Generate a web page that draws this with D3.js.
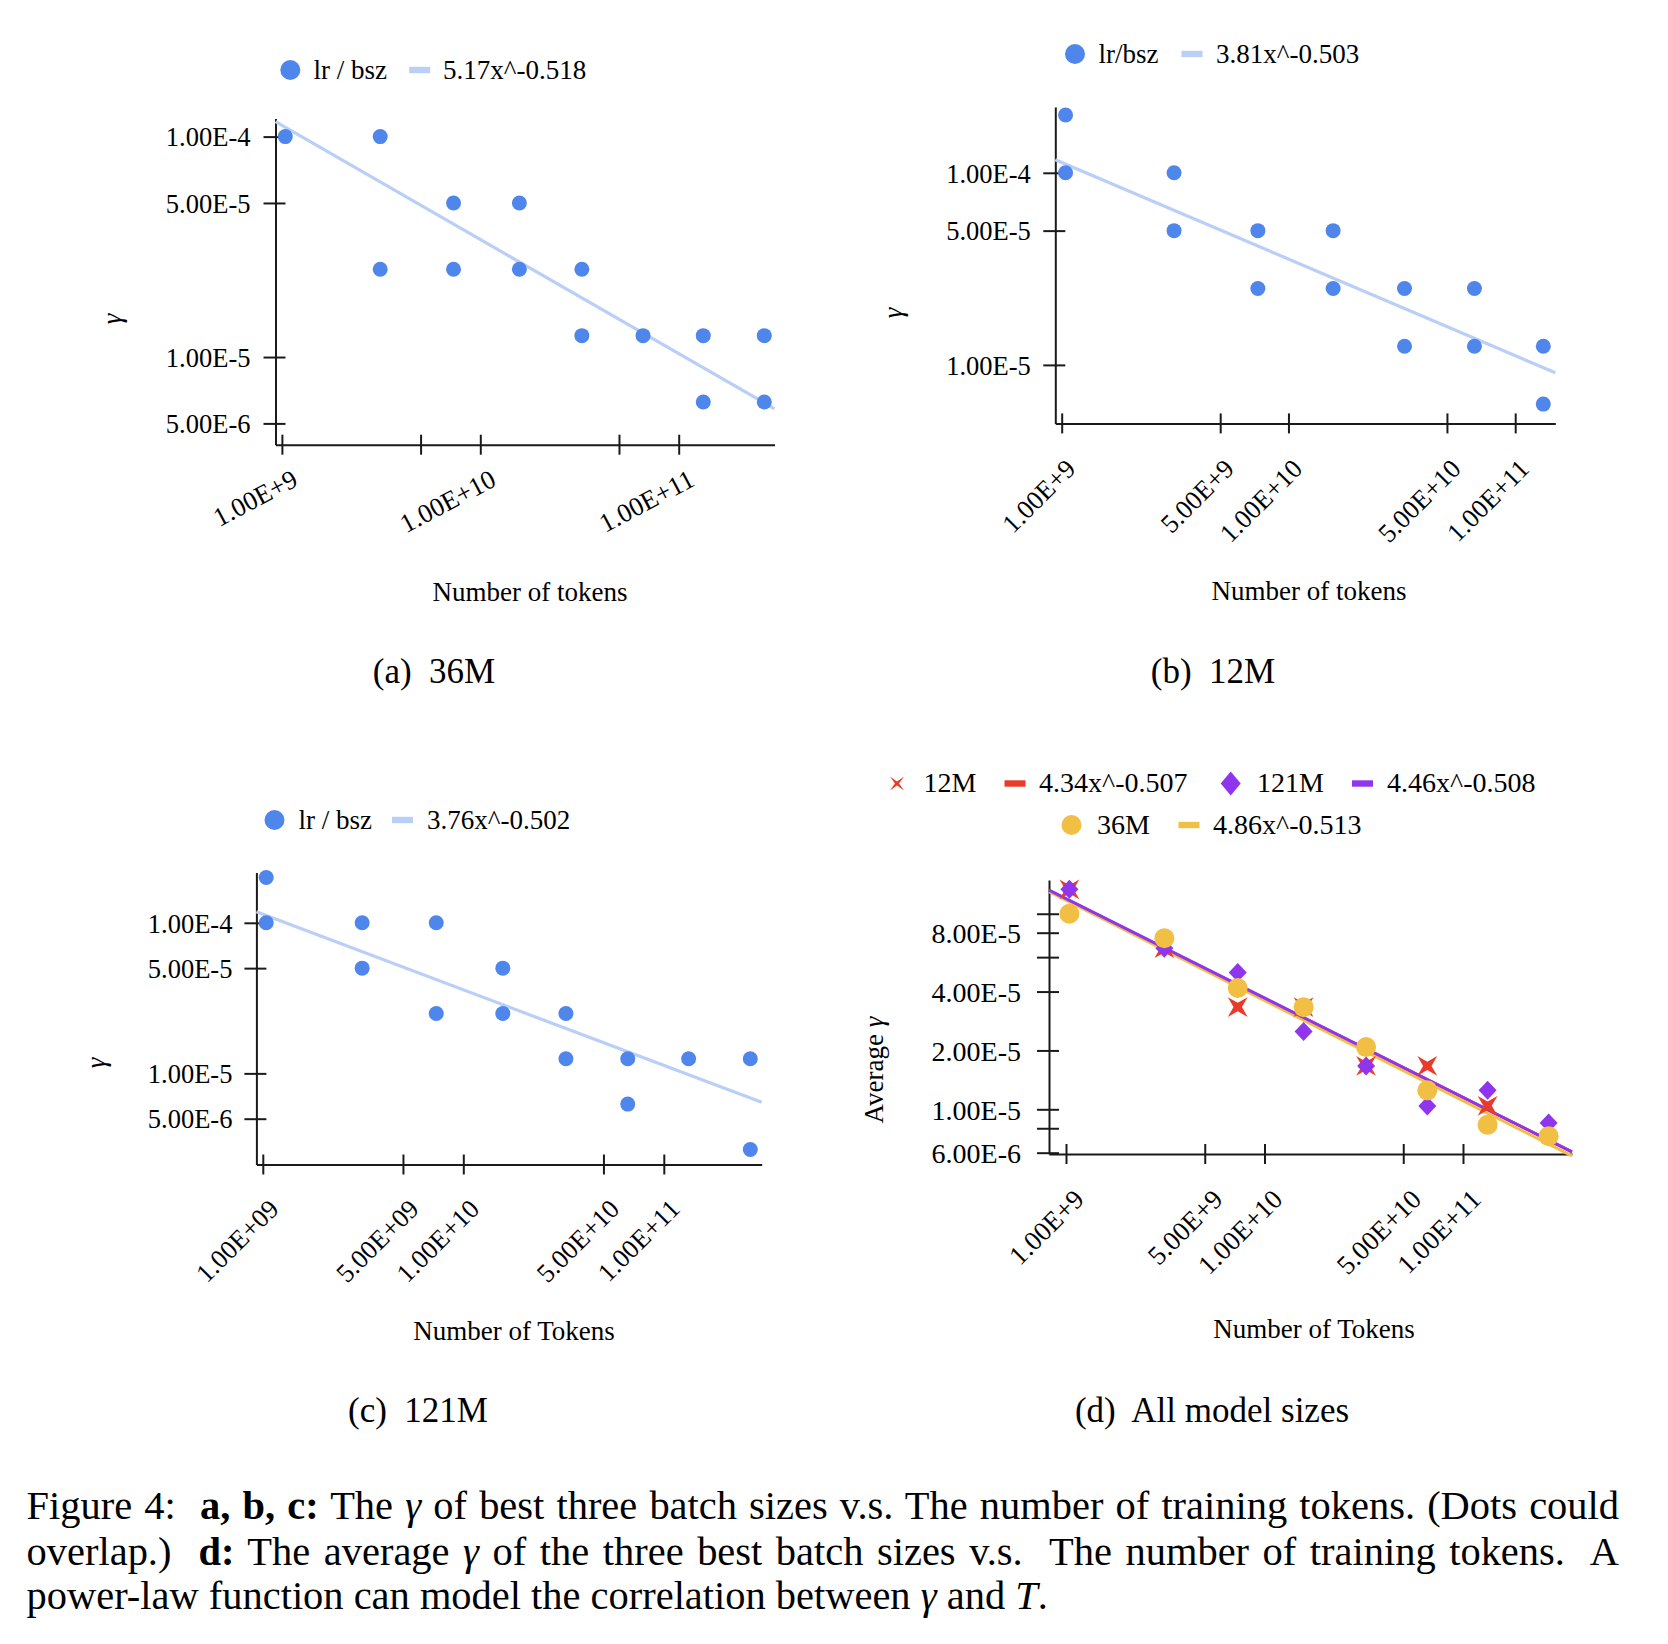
<!DOCTYPE html>
<html><head><meta charset="utf-8">
<script src="https://cdn.jsdelivr.net/npm/d3@7"></script>
<style>
body{margin:0;background:#fff}
svg{display:block}
text{font-family:"Liberation Serif","Times New Roman",Times,serif;fill:#000;white-space:pre}
</style>
</head><body>
<svg id="fig" width="1668" height="1644" xmlns="http://www.w3.org/2000/svg"></svg>
<script>
// ================= DATA =================
// (a) 36M : gamma of best three batch sizes vs number of tokens
const tokens36M = [1.04e9, 3.13e9, 3.13e9, 7.33e9, 7.33e9, 1.574e10, 1.574e10, 3.25e10, 3.25e10, 6.61e10, 1.33e11, 1.33e11, 2.70e11, 2.70e11];
const gamma36M  = [1e-4, 1e-4, 2.5e-5, 5e-5, 2.5e-5, 5e-5, 2.5e-5, 2.5e-5, 1.25e-5, 1.25e-5, 1.25e-5, 6.25e-6, 1.25e-5, 6.25e-6];
const fit36M = [5.17, -0.518];

// (b) 12M
const tokens12M = [1.04e9, 1.04e9, 3.13e9, 3.13e9, 7.33e9, 7.33e9, 1.574e10, 1.574e10, 3.25e10, 3.25e10, 6.61e10, 6.61e10, 1.33e11, 1.33e11];
const gamma12M  = [2e-4, 1e-4, 1e-4, 5e-5, 5e-5, 2.5e-5, 5e-5, 2.5e-5, 2.5e-5, 1.25e-5, 2.5e-5, 1.25e-5, 1.25e-5, 6.25e-6];
const fit12M = [3.81, -0.503];

// (c) 121M
const tokens121M = [1.04e9, 1.04e9, 3.13e9, 3.13e9, 7.33e9, 7.33e9, 1.574e10, 1.574e10, 3.25e10, 3.25e10, 6.61e10, 6.61e10, 1.33e11, 2.70e11, 2.70e11];
const gamma121M  = [2e-4, 1e-4, 1e-4, 5e-5, 1e-4, 2.5e-5, 5e-5, 2.5e-5, 2.5e-5, 1.25e-5, 1.25e-5, 6.25e-6, 1.25e-5, 1.25e-5, 3.125e-6];
const fit121M = [3.76, -0.502];

// (d) average gamma of the three best batch sizes
const avgTokens12M  = [1.04e9, 3.13e9, 7.33e9, 1.574e10, 3.25e10, 6.61e10, 1.33e11];
const avgGamma12M   = [1.333e-4, 6.667e-5, 3.333e-5, 3.333e-5, 1.667e-5, 1.667e-5, 1.042e-5];
const avgTokens121M = [1.04e9, 3.13e9, 7.33e9, 1.574e10, 3.25e10, 6.61e10, 1.33e11, 2.70e11];
const avgGamma121M  = [1.333e-4, 6.667e-5, 5.0e-5, 2.5e-5, 1.667e-5, 1.04e-5, 1.25e-5, 8.5e-6];
const avgTokens36M  = [1.04e9, 3.13e9, 7.33e9, 1.574e10, 3.25e10, 6.61e10, 1.33e11, 2.70e11];
const avgGamma36M   = [1.0e-4, 7.5e-5, 4.17e-5, 3.33e-5, 2.08e-5, 1.25e-5, 8.33e-6, 7.29e-6];
const fitAvg12M  = [4.34, -0.507];
const fitAvg121M = [4.46, -0.508];
const fitAvg36M  = [4.86, -0.513];

// tick values / labels
const xTicksA = [1e9, 5e9, 1e10, 5e10, 1e11];
const xLabelsA = ["1.00E+9", "", "1.00E+10", "", "1.00E+11"];
const yTicksA = [1e-4, 5e-5, 1e-5, 5e-6];
const yLabelsA = ["1.00E-4", "5.00E-5", "1.00E-5", "5.00E-6"];
const xTicksB = [1e9, 5e9, 1e10, 5e10, 1e11];
const xLabelsB = ["1.00E+9", "5.00E+9", "1.00E+10", "5.00E+10", "1.00E+11"];
const yTicksB = [1e-4, 5e-5, 1e-5];
const yLabelsB = ["1.00E-4", "5.00E-5", "1.00E-5"];
const xTicksC = [1e9, 5e9, 1e10, 5e10, 1e11];
const xLabelsC = ["1.00E+09", "5.00E+09", "1.00E+10", "5.00E+10", "1.00E+11"];
const yTicksC = [1e-4, 5e-5, 1e-5, 5e-6];
const yLabelsC = ["1.00E-4", "5.00E-5", "1.00E-5", "5.00E-6"];
const xTicksD = [1e9, 5e9, 1e10, 5e10, 1e11];
const xLabelsD = ["1.00E+9", "5.00E+9", "1.00E+10", "5.00E+10", "1.00E+11"];
const yTicksD = [1e-4, 8e-5, 6e-5, 4e-5, 2e-5, 1e-5, 8e-6, 6e-6];
const yLabelsD = ["", "8.00E-5", "", "4.00E-5", "2.00E-5", "1.00E-5", "", "6.00E-6"];

// ================= STYLE =================
const BLUE = "#4f86ec", BLUE_FIT = "#b9cff6";
const RED = "#e93a2a", PURPLE = "#8f35ee", YELLOW = "#f2bf45";
const AX = "#1a1a1a";
const svg = d3.select("#fig");

function starX(r, ri) {
  const pts = [];
  for (let k = 0; k < 8; k++) {
    const a = Math.PI / 4 + k * Math.PI / 4;
    const rr = k % 2 === 0 ? r : ri;
    pts.push([rr * Math.cos(a), rr * Math.sin(a)]);
  }
  return "M" + pts.map(p => p[0].toFixed(2) + "," + p[1].toFixed(2)).join("L") + "Z";
}
function diamondPath(hw, hh) { return `M0,${-hh}L${hw},0L0,${hh}L${-hw},0Z`; }

function panel(cfg) {
  const g = svg.append("g");
  const x = d3.scaleLog().domain([1e9, 1e11]).range([cfg.x1e9, cfg.x1e11]);
  x.domain([x.invert(cfg.left), x.invert(cfg.right)]).range([cfg.left, cfg.right]);
  const y = d3.scaleLog().domain(cfg.yRefV).range(cfg.yRefP);
  y.domain([y.invert(cfg.bottom), y.invert(cfg.top)]).range([cfg.bottom, cfg.top]);

  // y axis
  const ya = g.append("g").attr("transform", `translate(${cfg.left},0)`)
    .call(d3.axisLeft(y).tickValues(cfg.yTicks).tickFormat((d, i) => cfg.yLabels[i]).tickSizeOuter(0));
  ya.attr("font-family", null).attr("font-size", cfg.yFs);
  ya.select(".domain").attr("stroke", AX).attr("stroke-width", 2);
  ya.selectAll(".tick line").attr("x1", -12).attr("x2", 10).attr("stroke", AX).attr("stroke-width", 2);
  ya.selectAll(".tick text").attr("x", -cfg.yGap).attr("dy", "0.35em").attr("fill", "#000");

  // x axis
  const xa = g.append("g").attr("transform", `translate(0,${cfg.bottom})`)
    .call(d3.axisBottom(x).tickValues(cfg.xTicks).tickFormat((d, i) => cfg.xLabels[i]).tickSizeOuter(0));
  xa.attr("font-family", null).attr("font-size", cfg.xFs);
  xa.select(".domain").attr("stroke", AX).attr("stroke-width", 2);
  xa.selectAll(".tick line").attr("y1", -10).attr("y2", 10).attr("stroke", AX).attr("stroke-width", 2);
  xa.selectAll(".tick text").attr("x", 0).attr("y", 0).attr("dy", 0)
    .attr("text-anchor", "end").attr("fill", "#000")
    .attr("transform", `translate(${cfg.lab[0]},${cfg.lab[1]}) rotate(${-cfg.rot})`);

  // series
  const [x0, x1] = x.domain();
  cfg.series.forEach(s => {
    if (s.kind === "fit") {
      const pts = [x0, x1].map(t => [t, s.coef[0] * Math.pow(t, s.coef[1])]);
      g.append("path").attr("d", d3.line().x(d => x(d[0])).y(d => y(d[1]))(pts))
        .attr("fill", "none").attr("stroke", s.color).attr("stroke-width", s.w);
    } else {
      const pts = d3.zip(s.xs, s.ys);
      if (s.kind === "circle") {
        g.append("g").selectAll("circle").data(pts).join("circle")
          .attr("cx", d => x(d[0])).attr("cy", d => y(d[1])).attr("r", s.r).attr("fill", s.color);
      } else {
        const path = s.kind === "x" ? starX(14, 4.2) : diamondPath(9, 9.5);
        g.append("g").selectAll("path").data(pts).join("path")
          .attr("d", path).attr("transform", d => `translate(${x(d[0])},${y(d[1])})`).attr("fill", s.color);
      }
    }
  });

  // titles
  g.append("text").attr("transform", `translate(${cfg.yTitle[0]},${cfg.yTitle[1]}) rotate(-90)`)
    .attr("text-anchor", "middle").attr("dy", "0.35em").attr("font-size", 27)
    .call(t => {
      if (cfg.yTitleText) t.append("tspan").text(cfg.yTitleText);
      t.append("tspan").attr("font-style", "italic").text("γ");
    });
  g.append("text").attr("x", cfg.xTitle[0]).attr("y", cfg.xTitle[1]).attr("text-anchor", "middle")
    .attr("font-size", 27).text(cfg.xTitleText);
  g.append("text").attr("x", cfg.cap[0]).attr("y", cfg.cap[1]).attr("text-anchor", "middle")
    .attr("font-size", 35).text(cfg.capText);

  // legend
  cfg.legend.forEach(row => {
    row.items.forEach(it => {
      if (it.kind === "circle") svg.append("circle").attr("cx", it.mx).attr("cy", row.cy).attr("r", 10).attr("fill", it.color);
      else if (it.kind === "swatch") svg.append("rect").attr("x", it.mx - 10.5).attr("y", row.cy - 3.2).attr("width", 21).attr("height", 6.4).attr("fill", it.color);
      else if (it.kind === "x") svg.append("path").attr("d", starX(10, 2)).attr("transform", `translate(${it.mx},${row.cy})`).attr("fill", it.color);
      else if (it.kind === "diamond") svg.append("path").attr("d", diamondPath(10, 12)).attr("transform", `translate(${it.mx},${row.cy})`).attr("fill", it.color);
      svg.append("text").attr("x", it.tx).attr("y", row.cy + 8.5).attr("font-size", row.fs).text(it.label);
    });
  });
}

// (a) 36M
panel({
  left: 275.5, right: 774.5, top: 118.5, bottom: 444.7,
  x1e9: 281.9, x1e11: 678.7, yRefV: [1e-4, 5e-6], yRefP: [136.6, 423.4],
  yTicks: yTicksA, yLabels: yLabelsA, xTicks: xTicksA, xLabels: xLabelsA,
  yFs: 26.5, xFs: 26.5, yGap: 25, rot: 28, lab: [17, 40],
  series: [
    {kind: "fit", coef: fit36M, color: BLUE_FIT, w: 3.2},
    {kind: "circle", xs: tokens36M, ys: gamma36M, r: 7.5, color: BLUE}
  ],
  yTitle: [112, 319], xTitle: [530, 601], xTitleText: "Number of tokens",
  cap: [434, 683], capText: "(a)  36M",
  legend: [{cy: 70, fs: 27, items: [
    {kind: "circle", mx: 290.3, tx: 313.5, label: "lr / bsz", color: BLUE},
    {kind: "swatch", mx: 419.7, tx: 443, label: "5.17x^-0.518", color: BLUE_FIT}
  ]}]
});

// (b) 12M
panel({
  left: 1055.3, right: 1555.3, top: 107, bottom: 423.4,
  x1e9: 1061.7, x1e11: 1515.2, yRefV: [1e-4, 1e-5], yRefP: [172.8, 364.9],
  yTicks: yTicksB, yLabels: yLabelsB, xTicks: xTicksB, xLabels: xLabelsB,
  yFs: 26.5, xFs: 26.5, yGap: 24.5, rot: 45, lab: [15, 47],
  series: [
    {kind: "fit", coef: fit12M, color: BLUE_FIT, w: 3.2},
    {kind: "circle", xs: tokens12M, ys: gamma12M, r: 7.5, color: BLUE}
  ],
  yTitle: [892.5, 313], xTitle: [1309, 600], xTitleText: "Number of tokens",
  cap: [1213, 683], capText: "(b)  12M",
  legend: [{cy: 54, fs: 27, items: [
    {kind: "circle", mx: 1075, tx: 1098.5, label: "lr/bsz", color: BLUE},
    {kind: "swatch", mx: 1192, tx: 1216, label: "3.81x^-0.503", color: BLUE_FIT}
  ]}]
});

// (c) 121M
panel({
  left: 256.4, right: 761.7, top: 872.5, bottom: 1164.5,
  x1e9: 262.8, x1e11: 663.8, yRefV: [1e-4, 5e-6], yRefP: [922.8, 1118.7],
  yTicks: yTicksC, yLabels: yLabelsC, xTicks: xTicksC, xLabels: xLabelsC,
  yFs: 26.5, xFs: 26.5, yGap: 24, rot: 45, lab: [17, 46],
  series: [
    {kind: "fit", coef: fit121M, color: BLUE_FIT, w: 3.2},
    {kind: "circle", xs: tokens121M, ys: gamma121M, r: 7.5, color: BLUE}
  ],
  yTitle: [96, 1063], xTitle: [514, 1340], xTitleText: "Number of Tokens",
  cap: [418, 1421.7], capText: "(c)  121M",
  legend: [{cy: 820, fs: 27, items: [
    {kind: "circle", mx: 274.5, tx: 298.5, label: "lr / bsz", color: BLUE},
    {kind: "swatch", mx: 402.5, tx: 427, label: "3.76x^-0.502", color: BLUE_FIT}
  ]}]
});

// (d) all model sizes
panel({
  left: 1049, right: 1572, top: 880, bottom: 1154,
  x1e9: 1066, x1e11: 1463, yRefV: [8e-5, 1e-5], yRefP: [932.7, 1109.3],
  yTicks: yTicksD, yLabels: yLabelsD, xTicks: xTicksD, xLabels: xLabelsD,
  yFs: 28, xFs: 27, yGap: 28, rot: 45, lab: [19, 47],
  series: [
    {kind: "fit", coef: fitAvg12M, color: RED, w: 3},
    {kind: "fit", coef: fitAvg36M, color: YELLOW, w: 3},
    {kind: "fit", coef: fitAvg121M, color: PURPLE, w: 3},
    {kind: "x", xs: avgTokens12M, ys: avgGamma12M, color: RED},
    {kind: "diamond", xs: avgTokens121M, ys: avgGamma121M, color: PURPLE},
    {kind: "circle", xs: avgTokens36M, ys: avgGamma36M, r: 10, color: YELLOW}
  ],
  yTitle: [874, 1070], yTitleText: "Average ", xTitle: [1314, 1338], xTitleText: "Number of Tokens",
  cap: [1212, 1421.7], capText: "(d)  All model sizes",
  legend: [
    {cy: 783.5, fs: 28, items: [
      {kind: "x", mx: 897, tx: 923.4, label: "12M", color: RED},
      {kind: "swatch", mx: 1015, tx: 1039, label: "4.34x^-0.507", color: RED},
      {kind: "diamond", mx: 1230.7, tx: 1257, label: "121M", color: PURPLE},
      {kind: "swatch", mx: 1362.5, tx: 1387, label: "4.46x^-0.508", color: PURPLE}
    ]},
    {cy: 825, fs: 28, items: [
      {kind: "circle", mx: 1071.5, tx: 1097, label: "36M", color: YELLOW},
      {kind: "swatch", mx: 1189, tx: 1213, label: "4.86x^-0.513", color: YELLOW}
    ]}
  ]
});

// ================= CAPTION =================
const capLeft = 26.6, capRight = 1619, line3Right = 1048;
const capBase = [1519, 1565, 1608.5];
const capParts = [
  [["Figure 4:  ", ""], ["a, b, c:", "b"], [" The ", ""], ["γ", "i"], [" of best three batch sizes v.s. The number of training tokens. (Dots could", ""]],
  [["overlap.)  ", ""], ["d:", "b"], [" The average ", ""], ["γ", "i"], [" of the three best batch sizes v.s.  The number of training tokens.  A", ""]],
  [["power-law function can model the correlation between ", ""], ["γ", "i"], [" and ", ""], ["T", "i"], [".", ""]]
];
const capNodes = capParts.map((parts, li) => {
  const t = svg.append("text").attr("x", capLeft).attr("y", capBase[li]).attr("font-size", 35);
  parts.forEach(p => {
    const ts = t.append("tspan").text(p[0]);
    if (p[1] === "b") ts.attr("font-weight", "bold");
    if (p[1] === "i") ts.attr("font-style", "italic");
  });
  return t;
});
// size from last (unjustified) line, then justify lines 1-2 with word spacing
const w3 = capNodes[2].node().getComputedTextLength();
const fs = 35 * (line3Right - capLeft) / w3;
capNodes.forEach(t => t.attr("font-size", fs));
[0, 1].forEach(i => {
  const t = capNodes[i];
  const txt = capParts[i].map(p => p[0]).join("");
  const nSp = (txt.match(/ /g) || []).length;
  const w = t.node().getComputedTextLength();
  t.attr("word-spacing", (capRight - capLeft - w) / nSp);
});
</script>
</body></html>
